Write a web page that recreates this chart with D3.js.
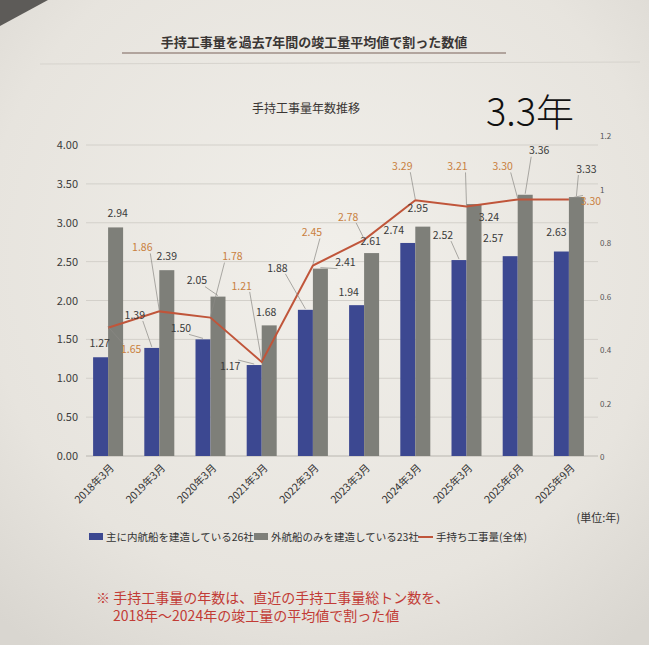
<!DOCTYPE html>
<html><head><meta charset="utf-8">
<script src="https://cdn.jsdelivr.net/npm/d3@7"></script>
<style>html,body{margin:0;padding:0;background:#e6e3dd;}svg{display:block;}</style>
</head><body>
<svg id="c" width="649" height="645"></svg>
<script>
const categories = ["2018年3月","2019年3月","2020年3月","2021年3月","2022年3月","2023年3月","2024年3月","2025年3月","2025年6月","2025年9月"];
const domestic = [1.27,1.39,1.50,1.17,1.88,1.94,2.74,2.52,2.57,2.63];
const overseas = [2.94,2.39,2.05,1.68,2.41,2.61,2.95,3.24,3.36,3.33];
const total = [1.65,1.86,1.78,1.21,2.45,2.78,3.29,3.21,3.30,3.30];
const leftTicks = [0,0.5,1,1.5,2,2.5,3,3.5,4];
const rightTicks = [0,0.2,0.4,0.6,0.8,1,1.2];
const seriesNames = ["主に内航船を建造している26社","外航船のみを建造している23社","手持ち工事量(全体)"];
// label offsets (placement only)
const domOff = [[-1,-14],[-17,-33],[-22,-11],[-24,1],[-28,-42],[-8,-13],[-14,-13],[-16,-25],[-17,-18],[-5,-19]];
const ovOff = [[2,-14],[0,-14],[-21,-16],[-3,-13],[25,-6],[-1,-12],[-5,-18],[15,13],[14,-44],[10,-28]];
const totOff = [[23,22],[-17,-64],[22,-61],[-20,-76],[-1,-33],[-16,-23],[-13,-34],[-9,-40],[-15,-33],[22,2]];

const svg = d3.select("#c");
const FONT = "'Noto Sans CJK JP','Noto Sans',sans-serif";
// paper background
const defs = svg.append("defs");
const rg = defs.append("radialGradient").attr("id","paper").attr("cx","50%").attr("cy","40%").attr("r","75%");
rg.append("stop").attr("offset","0%").attr("stop-color","#f1efea");
rg.append("stop").attr("offset","70%").attr("stop-color","#e7e4de");
rg.append("stop").attr("offset","100%").attr("stop-color","#d9d6d0");
svg.append("rect").attr("width",649).attr("height",645).attr("fill","url(#paper)");
svg.append("path").attr("d","M0,0 L48,0 L0,26 Z").attr("fill","#5d5b58");

// titles
svg.append("text").attr("x",314).attr("y",47).attr("text-anchor","middle").attr("font-family",FONT)
  .attr("font-size",13).attr("font-weight","bold").attr("fill","#3a3634").text("手持工事量を過去7年間の竣工量平均値で割った数値");
svg.append("line").attr("x1",122).attr("x2",506).attr("y1",53).attr("y2",53).attr("stroke","#7a625a").attr("stroke-width",1.2);
svg.append("line").attr("x1",40).attr("x2",640).attr("y1",64).attr("y2",62).attr("stroke","#d6d3cd").attr("stroke-width",1);
svg.append("text").attr("x",306).attr("y",113).attr("text-anchor","middle").attr("font-family",FONT)
  .attr("font-size",12).attr("fill","#3a3634").text("手持工事量年数推移");
svg.append("text").attr("x",530).attr("y",126).attr("text-anchor","middle").attr("font-family",FONT)
  .attr("font-size",38).attr("font-weight",300).attr("fill","#111").text("3.3年");

const x = d3.scaleBand().domain(categories).range([82.5,594.5]);
const y = d3.scaleLinear().domain([0,4]).range([456,145]);
const yR = d3.scaleLinear().domain([0,1.2]).range([457,136]);
const bw = 15;
const cx = c => x(c) + x.bandwidth()/2;

// gridlines
svg.append("g").selectAll("line").data(leftTicks).join("line")
  .attr("x1",86).attr("x2",598).attr("y1",d=>y(d)).attr("y2",d=>y(d))
  .attr("stroke",d=>d===0?"#b9b6b0":"#d3d0ca").attr("stroke-width",1);

// left axis
const la = svg.append("g").attr("transform","translate(80,0)")
  .call(d3.axisLeft(y).tickValues(leftTicks).tickFormat(d3.format(".2f")).tickSize(0).tickPadding(2));
la.select(".domain").remove();
la.selectAll("text").attr("font-family",FONT).attr("font-size",11).attr("fill","#3c3c3c");
// right axis
const ra = svg.append("g").attr("transform","translate(596,0)")
  .call(d3.axisRight(yR).tickValues(rightTicks).tickFormat(d=>d3.format("")(+d.toFixed(1))).tickSize(0).tickPadding(4));
ra.select(".domain").remove();
ra.selectAll("text").attr("font-family",FONT).attr("font-size",8).attr("fill","#555");

// bars
svg.append("g").selectAll("rect").data(domestic).join("rect")
  .attr("x",(d,i)=>cx(categories[i])-bw).attr("width",bw)
  .attr("y",d=>y(d)).attr("height",d=>y(0)-y(d)).attr("fill","#3c4891");
svg.append("g").selectAll("rect").data(overseas).join("rect")
  .attr("x",(d,i)=>cx(categories[i])).attr("width",bw)
  .attr("y",d=>y(d)).attr("height",d=>y(0)-y(d)).attr("fill","#7e7f79");

// line
const line = d3.line().x((d,i)=>cx(categories[i])).y(d=>y(d));
svg.append("path").datum(total).attr("d",line).attr("fill","none").attr("stroke","#c0553a").attr("stroke-width",2);

// labels with leaders
function labels(vals, offs, ax, color){
  const g = svg.append("g");
  vals.forEach((v,i)=>{
    const axp = ax(i), ay = y(v);
    const lx = axp + offs[i][0], ly = ay + offs[i][1];
    if (Math.abs(offs[i][1])>22 || Math.abs(offs[i][0])>20){
      const ty = ly + (offs[i][1]<0 ? 6 : -6);
      g.append("line").attr("x1",lx + (offs[i][0]<0?8:(offs[i][0]>0?-8:0))).attr("y1",ty).attr("x2",axp).attr("y2",ay-1)
        .attr("stroke","#8a8884").attr("stroke-width",0.7);
    }
    g.append("text").attr("x",lx).attr("y",ly).attr("dy","0.35em").attr("text-anchor","middle")
      .attr("font-family",FONT).attr("font-size",10.5).attr("fill",color).text(v.toFixed(2));
  });
}
labels(domestic, domOff, i=>cx(categories[i])-bw/2, "#3a3a3a");
labels(overseas, ovOff, i=>cx(categories[i])+bw/2, "#3a3a3a");
labels(total, totOff, i=>cx(categories[i]), "#c9803e");

// x labels
svg.append("g").selectAll("text").data(categories).join("text")
  .attr("transform",d=>`translate(${cx(d)+4},${466}) rotate(-45)`)
  .attr("text-anchor","end").attr("dy","0.35em").attr("font-family",FONT).attr("font-size",10.5).attr("fill","#333").text(d=>d);

// unit
svg.append("text").attr("x",620).attr("y",522).attr("text-anchor","end").attr("font-family",FONT)
  .attr("font-size",11).attr("fill","#333").text("(単位:年)");

// legend
const lg = svg.append("g").attr("font-family",FONT).attr("font-size",10.5).attr("fill","#333");
lg.append("rect").attr("x",89).attr("y",533).attr("width",14).attr("height",7).attr("fill","#3c4891");
lg.append("text").attr("x",106).attr("y",537).attr("dy","0.35em").text(seriesNames[0]);
lg.append("rect").attr("x",254).attr("y",533).attr("width",14).attr("height",7).attr("fill","#7e7f79");
lg.append("text").attr("x",271).attr("y",537).attr("dy","0.35em").text(seriesNames[1]);
lg.append("line").attr("x1",418).attr("x2",433).attr("y1",537).attr("y2",537).attr("stroke","#c0553a").attr("stroke-width",2);
lg.append("text").attr("x",436).attr("y",537).attr("dy","0.35em").text(seriesNames[2]);

// footnote
const fn = svg.append("g").attr("font-family",FONT).attr("font-size",14).attr("fill","#c23b35");
fn.append("text").attr("x",96).attr("y",603).text("※ 手持工事量の年数は、直近の手持工事量総トン数を、");
fn.append("text").attr("x",113).attr("y",621).text("2018年～2024年の竣工量の平均値で割った値");
</script>
</body></html>
